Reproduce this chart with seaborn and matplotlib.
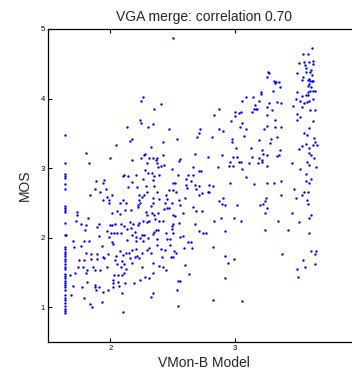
import matplotlib
matplotlib.use("Agg")
import matplotlib.pyplot as plt
import seaborn as sns
import pandas as pd

title = "VGA merge: correlation 0.70"
x_label = "VMon-B Model"
y_label = "MOS"
x_ticks = [2, 3]
y_ticks = [1, 2, 3, 4, 5]

# points stacked at the model's lowest value
column_x = 1.641
column_mos = [3.47, 3.07, 2.91, 2.88, 2.855, 2.77, 2.70, 2.46, 2.42, 2.40, 2.37, 2.21, 2.04,
              1.87, 1.84, 1.80, 1.77, 1.73, 1.69, 1.66, 1.62, 1.58, 1.55, 1.48, 1.45, 1.42,
              1.38, 1.35, 1.32, 1.29, 1.25, 1.18, 1.13, 1.10, 1.055, 1.02, 0.98, 0.95, 0.91]

# remaining (model, MOS) pairs, read left to right by region
pairs_left = [
    (2.265, 4.02), (2.246, 3.96), (2.238, 3.69), (2.249, 3.65), (2.134, 3.59), (2.305, 3.59),
    (2.177, 3.42), (2.158, 3.39), (2.043, 3.33), (1.806, 3.22), (2.001, 3.15), (2.278, 3.21),
    (2.273, 3.19), (2.246, 3.15), (2.291, 3.08), (2.310, 3.15), (2.174, 3.12), (1.827, 3.07),
    (2.275, 2.98), (2.110, 2.90), (2.099, 2.88), (2.145, 2.88), (2.209, 2.90), (2.265, 2.85),
    (2.305, 2.93),
    (1.950, 2.83), (1.939, 2.79), (1.883, 2.82), (2.177, 2.80), (2.217, 2.735), (2.140, 2.735),
    (2.286, 2.745), (1.875, 2.70), (1.918, 2.65), (1.963, 2.70), (1.838, 2.615), (2.291, 2.663),
    (2.014, 2.615), (1.971, 2.58), (1.993, 2.543), (1.945, 2.543), (1.990, 2.505), (2.233, 2.615),
    (2.251, 2.59), (2.270, 2.615), (2.227, 2.543), (2.219, 2.471), (2.238, 2.495), (2.222, 2.447),
    (2.099, 2.543), (2.078, 2.495), (2.129, 2.495), (1.731, 2.375), (1.731, 2.327), (1.819, 2.279),
    (1.723, 2.241), (2.011, 2.361), (2.051, 2.385), (2.081, 2.337), (2.121, 2.399), (2.163, 2.399),
    (2.283, 2.375), (2.291, 2.327), (2.227, 2.217), (2.265, 2.246), (2.291, 2.231), (2.313, 2.241),
    (1.763, 2.198), (1.806, 2.188), (1.910, 2.193), (1.894, 2.159), (1.995, 2.178), (2.011, 2.183),
    (2.038, 2.198), (2.083, 2.193), (2.110, 2.169), (2.158, 2.231), (2.185, 2.198), (2.222, 2.183),
    (1.798, 2.111), (1.977, 2.102), (2.009, 2.063), (2.033, 2.063), (2.054, 2.063), (2.086, 2.063),
    (2.131, 2.121), (2.166, 2.135), (2.201, 2.087), (2.177, 2.039), (2.206, 2.015), (2.251, 2.039),
    (2.270, 2.039), (1.649, 2.039), (1.699, 1.958), (1.790, 1.958), (1.830, 1.958), (1.913, 2.025),
    (1.987, 2.015), (2.017, 1.943), (2.025, 1.910), (2.131, 1.967), (2.238, 1.991), (2.265, 1.958),
    (2.206, 1.958), (2.305, 1.991), (1.710, 1.871), (1.769, 1.881), (1.931, 1.881), (2.078, 1.814),
    (2.099, 1.751), (2.126, 1.785), (2.171, 1.823), (2.153, 1.775), (2.206, 1.833), (2.217, 1.737),
    (2.201, 1.718), (2.257, 1.785), (2.291, 1.823), (2.313, 1.847), (1.806, 1.775), (1.849, 1.765),
    (1.894, 1.765), (1.939, 1.727), (1.947, 1.703), (1.985, 1.765), (2.049, 1.737), (1.753, 1.679),
    (1.790, 1.679), (1.843, 1.689), (1.897, 1.689), (2.035, 1.679), (2.094, 1.669), (2.107, 1.621),
    (2.158, 1.703), (2.174, 1.641), (2.233, 1.703), (2.251, 1.583), (1.745, 1.583), (1.785, 1.573),
    (1.817, 1.535), (1.865, 1.583), (1.881, 1.535), (1.918, 1.535), (1.977, 1.583), (2.051, 1.621),
    (2.086, 1.573), (2.126, 1.554), (2.113, 1.487), (1.715, 1.487), (1.678, 1.463), (1.806, 1.497),
    (2.030, 1.463), (2.065, 1.463), (2.091, 1.463), (2.025, 1.391), (2.019, 1.343), (2.065, 1.367),
    (2.118, 1.343), (1.814, 1.367), (1.878, 1.324), (1.907, 1.286), (1.875, 1.286), (1.777, 1.286),
    (2.193, 1.343), (2.238, 1.391), (2.281, 1.430), (2.310, 1.415), (1.705, 1.305), (1.689, 1.176),
    (1.788, 1.128), (1.883, 1.248), (1.945, 1.224), (1.985, 1.248), (2.025, 1.286), (2.067, 1.305),
    (2.091, 1.200), (1.838, 1.047), (1.857, 1.009), (1.931, 1.080), (2.099, 0.937),
]

pairs_mid = [
    (2.499, 4.874), (2.350, 3.847), (2.409, 3.919), (2.339, 3.636), (2.470, 3.564), (2.718, 3.559),
    (2.707, 3.511), (2.697, 3.453), (2.811, 3.443), (2.531, 3.419), (2.827, 3.765), (2.870, 3.851),
    (3.001, 3.808), (3.027, 3.789), (2.963, 3.674), (2.995, 3.751), (2.873, 3.559), (2.905, 3.535),
    (2.974, 3.424), (2.974, 3.381), (3.038, 3.597), (2.326, 3.309), (2.425, 3.371), (2.345, 3.151),
    (2.377, 3.151), (2.366, 3.117), (2.377, 3.069), (2.385, 3.021), (2.403, 3.035), (2.430, 3.045),
    (2.425, 3.194), (2.558, 3.127), (2.553, 3.107), (2.681, 3.203), (2.779, 3.155), (2.894, 3.184),
    (2.979, 3.165), (3.011, 3.165), (2.958, 3.083), (2.947, 3.035), (2.979, 3.035), (3.033, 3.093),
    (2.494, 2.983), (2.665, 3.021), (2.707, 2.959), (2.726, 2.959), (2.862, 3.021), (2.334, 2.925),
    (2.350, 2.891), (2.393, 2.896), (2.542, 2.896), (2.622, 2.896), (2.659, 2.896), (2.606, 2.843),
    (2.345, 2.831), (2.643, 2.817), (2.505, 2.793), (2.515, 2.793), (2.606, 2.759), (2.675, 2.759),
    (2.713, 2.745), (2.793, 2.759), (2.819, 2.745), (2.958, 2.793), (2.353, 2.745), (2.371, 2.663),
    (2.467, 2.687), (2.502, 2.687), (2.443, 2.615), (2.523, 2.663), (2.611, 2.711), (2.686, 2.701),
    (2.707, 2.615), (2.731, 2.639), (2.785, 2.653), (2.793, 2.653), (2.345, 2.567), (2.390, 2.553),
    (2.457, 2.553), (2.438, 2.505), (2.494, 2.505), (2.553, 2.543), (2.598, 2.567), (2.558, 2.471),
    (2.870, 2.533), (2.905, 2.567), (2.921, 2.471), (2.891, 2.485), (3.017, 2.471), (2.339, 2.495),
    (2.326, 2.461), (2.331, 2.361), (2.353, 2.327), (2.385, 2.361), (2.430, 2.409), (2.451, 2.423),
    (2.473, 2.433), (2.665, 2.447), (2.683, 2.385), (2.737, 2.385), (2.585, 2.351), (2.358, 2.265),
    (2.393, 2.246), (2.425, 2.241), (2.505, 2.322), (2.521, 2.317), (2.499, 2.198), (2.547, 2.207),
    (2.678, 2.198), (2.830, 2.241), (2.883, 2.279), (2.990, 2.279), (2.366, 2.111), (2.379, 2.111),
    (2.350, 2.082), (2.339, 2.053), (2.491, 2.169), (2.497, 2.121), (2.446, 2.073), (2.505, 2.063),
    (2.713, 2.097), (2.739, 2.063), (2.766, 2.063), (2.915, 2.101), (2.377, 1.981), (2.451, 1.981),
    (2.478, 1.981), (2.558, 2.005), (2.579, 2.025), (2.593, 1.857), (2.625, 1.943), (2.646, 1.943),
    (2.651, 1.852), (2.819, 1.862), (2.371, 1.895), (2.403, 1.837), (2.438, 1.823), (2.478, 1.895),
    (2.513, 1.809), (2.526, 1.775), (2.323, 1.775), (2.411, 1.718), (2.486, 1.727), (2.505, 1.718),
    (2.918, 1.737), (2.939, 1.641), (2.339, 1.641), (2.393, 1.593), (2.425, 1.583), (2.446, 1.535),
    (2.345, 1.497), (2.598, 1.612), (2.633, 1.477), (2.539, 1.372), (2.558, 1.372), (2.531, 1.248),
    (2.915, 1.415), (2.339, 1.209), (2.326, 1.142), (2.819, 1.104), (2.539, 1.022),
]

pairs_right = [
    (3.617, 4.720), (3.585, 4.634), (3.545, 4.634), (3.507, 4.509), (3.553, 4.519), (3.561, 4.480),
    (3.590, 4.523), (3.619, 4.543), (3.625, 4.495), (3.566, 4.437), (3.606, 4.413), (3.598, 4.384),
    (3.614, 4.341), (3.491, 4.365), (3.566, 4.379), (3.545, 4.317), (3.593, 4.288), (3.617, 4.250),
    (3.601, 4.255), (3.585, 4.269), (3.625, 4.255), (3.593, 4.211), (3.609, 4.173), (3.579, 4.187),
    (3.534, 4.269), (3.259, 4.375), (3.273, 4.365), (3.257, 4.317), (3.307, 4.255), (3.323, 4.235),
    (3.315, 4.221), (3.347, 4.235), (3.358, 4.163), (3.299, 4.115), (3.598, 4.115), (3.579, 4.101),
    (3.619, 4.111), (3.638, 4.111), (3.585, 4.053), (3.566, 4.053), (3.619, 3.991), (3.593, 3.971),
    (3.491, 4.101), (3.534, 4.043), (3.547, 3.933), (3.483, 3.995), (3.518, 3.967), (3.571, 3.957),
    (3.203, 4.091), (3.203, 4.067), (3.083, 4.019), (3.054, 3.967), (3.145, 4.019), (3.187, 3.971),
    (3.158, 3.914), (3.150, 3.856), (3.169, 3.856), (3.177, 3.851), (3.131, 3.813), (3.270, 3.933),
    (3.257, 3.875), (3.331, 3.957), (3.363, 3.943), (3.297, 3.837), (3.459, 3.890), (3.531, 3.875),
    (3.598, 3.837), (3.641, 3.832), (3.491, 3.784), (3.049, 3.813), (3.054, 3.645), (3.083, 3.559),
    (3.227, 3.559), (3.251, 3.765), (3.315, 3.693), (3.321, 3.597), (3.369, 3.597), (3.251, 3.607),
    (3.491, 3.693), (3.521, 3.731), (3.625, 3.674), (3.593, 3.583), (3.550, 3.501), (3.571, 3.477),
    (3.633, 3.429), (3.641, 3.381), (3.651, 3.333), (3.619, 3.333), (3.067, 3.463), (3.006, 3.285),
    (3.129, 3.295), (3.193, 3.405), (3.283, 3.415), (3.278, 3.357), (3.331, 3.443), (3.358, 3.261),
    (3.347, 3.185), (3.337, 3.175), (3.211, 3.261), (3.219, 3.203), (3.254, 3.189), (3.193, 3.151),
    (3.214, 3.117), (3.214, 3.093), (3.137, 3.155), (3.185, 3.079), (3.531, 3.319), (3.510, 3.280),
    (3.566, 3.343), (3.590, 3.285), (3.593, 3.223), (3.606, 3.189), (3.633, 3.151), (3.043, 3.083),
    (3.110, 3.079), (3.257, 3.035), (3.457, 3.079), (3.577, 3.083), (3.587, 3.045), (3.646, 3.021),
    (3.054, 2.983), (3.518, 2.987), (3.083, 2.877), (3.569, 2.911), (3.606, 2.843),
    (3.566, 2.821), (3.587, 2.793), (3.150, 2.773), (3.257, 2.793), (3.310, 2.793), (3.369, 2.817),
    (3.470, 2.701), (3.366, 2.620), (3.486, 2.577), (3.547, 2.663), (3.534, 2.620), (3.582, 2.663),
    (3.577, 2.539), (3.582, 2.490), (3.249, 2.577), (3.241, 2.533), (3.219, 2.490), (3.201, 2.466),
    (3.257, 2.428), (3.238, 2.361), (3.457, 2.361), (3.609, 2.327), (3.593, 2.279), (3.513, 2.226),
    (3.345, 2.236), (3.043, 2.236), (3.238, 2.107), (3.425, 2.107), (3.587, 2.068), (3.371, 1.771),
    (3.609, 1.809), (3.646, 1.809), (3.638, 1.761), (3.545, 1.679), (3.561, 1.583), (3.635, 1.621),
    (3.494, 1.550), (3.502, 1.429), (2.987, 1.698), (3.051, 1.084),
]

rows = [(column_x, m) for m in column_mos] + pairs_left + pairs_mid + pairs_right
df = pd.DataFrame(rows, columns=["model", "mos"])

sns.set_style("white")
plt.rcParams["font.family"] = ["Liberation Sans", "DejaVu Sans"]

fig = plt.figure(figsize=(3.52, 3.76), dpi=100)
ax = fig.add_axes([47.7 / 352, 34 / 376, (360.3 - 47.7) / 352, (342 - 29) / 376])

sns.scatterplot(data=df, x="model", y="mos", ax=ax, color="#0000ff",
                s=3.0, linewidth=0, marker="o", legend=False)

ax.set_xlim(1.5, 4.0)
ax.set_ylim(0.5, 5.0)
ax.set_xticks(x_ticks)
ax.set_yticks(y_ticks)
ax.set_xticklabels([str(t) for t in x_ticks])
ax.set_yticklabels([str(t) for t in y_ticks])
ax.tick_params(direction="in", length=3, width=0.8, labelsize=5.5, pad=2,
               top=True, right=True, bottom=True, left=True, colors="black")
for sp in ax.spines.values():
    sp.set_visible(True)
    sp.set_color("black")
    sp.set_linewidth(0.9)

ax.set_title(title, fontsize=10, pad=6)
ax.set_xlabel(x_label, fontsize=10, labelpad=3)
ax.set_ylabel(y_label, fontsize=10, labelpad=6)

fig.savefig("out.png", dpi=100)
